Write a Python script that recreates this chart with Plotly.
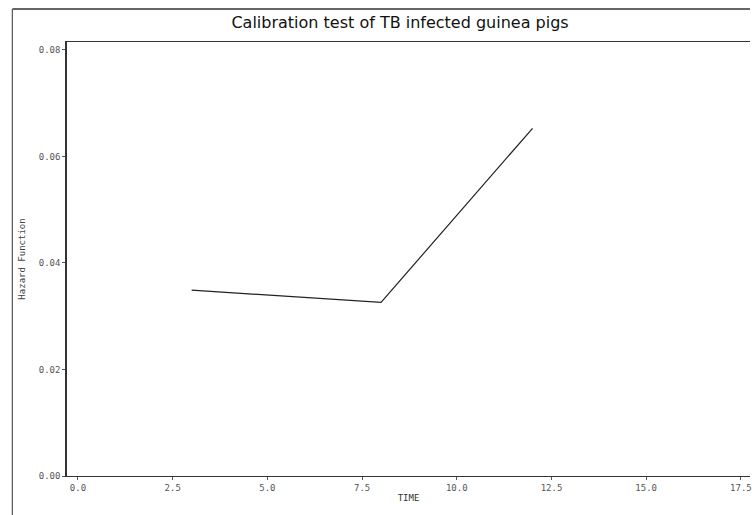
import plotly.graph_objects as go

time = [3.0, 8.0, 12.0]
hazard = [0.0349, 0.0326, 0.0653]
x_ticks = [0.0, 2.5, 5.0, 7.5, 10.0, 12.5, 15.0, 17.5]
x_tick_text = ["0.0", "2.5", "5.0", "7.5", "10.0", "12.5", "15.0", "17.5"]
y_ticks = [0.0, 0.02, 0.04, 0.06, 0.08]
y_tick_text = ["0.00", "0.02", "0.04", "0.06", "0.08"]

fig = go.Figure()
fig.add_trace(go.Scatter(x=time, y=hazard, mode="lines",
                         line=dict(color="#222222", width=1.2),
                         showlegend=False))

tick_font = dict(family="DejaVu Sans Mono", size=9, color="#555555")
fig.update_layout(
    width=752, height=515,
    margin=dict(l=67, r=0, t=42, b=39),
    paper_bgcolor="white", plot_bgcolor="white",
    title=dict(text="Calibration test of TB infected guinea pigs",
               x=0.532, xanchor="center", y=0.957, yanchor="middle",
               font=dict(family="DejaVu Sans", size=16, color="#111111")),
    xaxis=dict(range=[-0.29, 17.74], tickvals=x_ticks, ticktext=x_tick_text,
               showgrid=False, zeroline=False, showline=True, mirror=True,
               linecolor="#333333", linewidth=1, ticks="outside", ticklen=3,
               tickcolor="#555555", tickfont=tick_font, ticklabeloverflow="allow",
               title=dict(text="TIME", standoff=2,
                          font=dict(family="DejaVu Sans Mono", size=9, color="#333333"))),
    yaxis=dict(range=[0, 0.0815], tickvals=y_ticks, ticktext=y_tick_text,
               showgrid=False, zeroline=False, showline=True,
               linecolor="#333333", linewidth=1.5, ticks="outside", ticklen=3,
               tickcolor="#555555", tickfont=tick_font,
               title=dict(text="Hazard Function", standoff=12,
                          font=dict(family="DejaVu Sans Mono", size=9, color="#444444"))),
)

# scanned page frame
fig.add_shape(type="line", xref="paper", yref="paper",
              x0=-0.080, x1=1.0, y0=1.076, y1=1.076,
              line=dict(color="#333333", width=1.5))
fig.add_shape(type="line", xref="paper", yref="paper",
              x0=-0.080, x1=-0.080, y0=1.076, y1=-0.09,
              line=dict(color="#555555", width=1.2))

fig.write_html("out.html")
